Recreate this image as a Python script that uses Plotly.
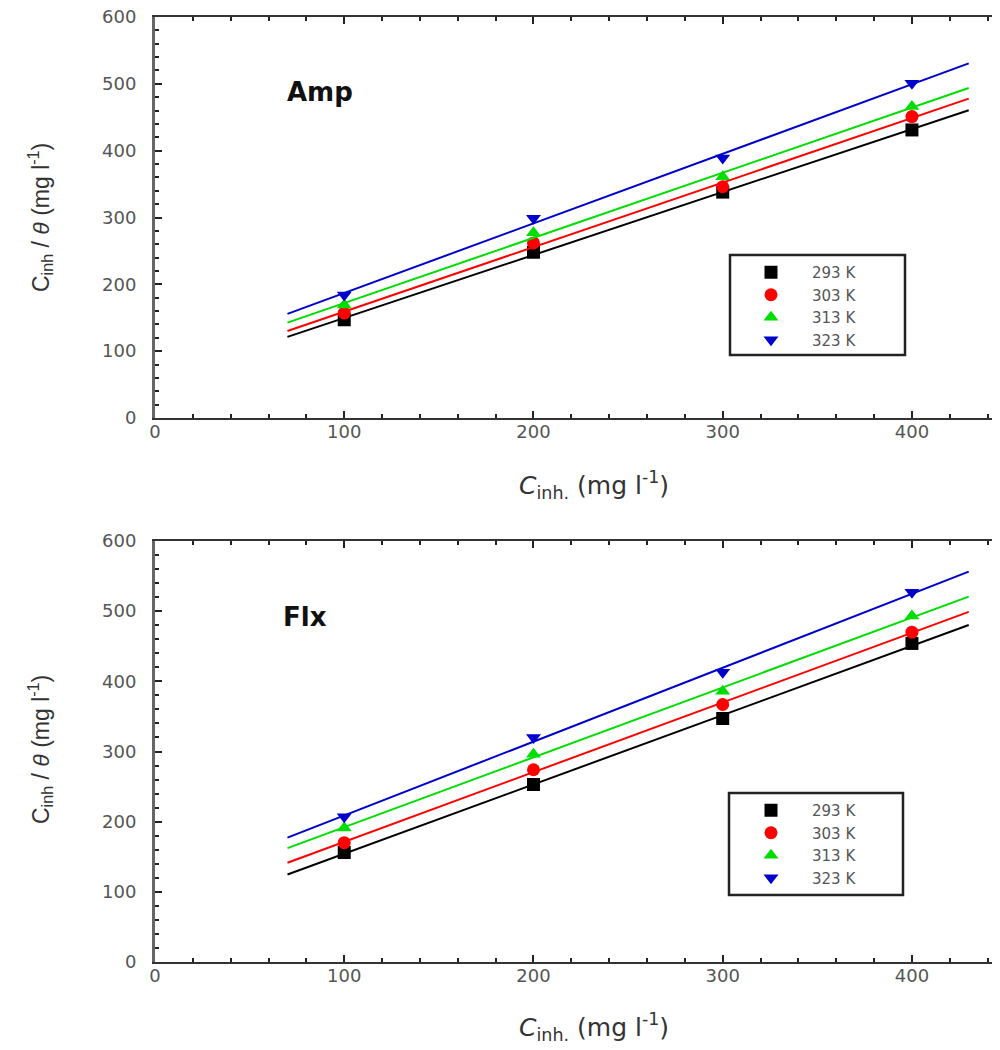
import numpy as np
import plotly.graph_objects as go
from plotly.subplots import make_subplots

conc = [100, 200, 300, 400]
temps = ['293 K', '303 K', '313 K', '323 K']

# C/theta values
amp_293 = [147, 248, 338, 431]
amp_303 = [157, 262, 346, 451]
amp_313 = [169, 277, 361, 466]
amp_323 = [184, 299, 389, 501]

flx_293 = [156, 253, 347, 454]
flx_303 = [170, 274, 367, 470]
flx_313 = [191, 296, 386, 493]
flx_323 = [207, 320, 413, 527]

fit_x = [70, 430]

colors = ['#000000', '#ff0000', '#00dd00', '#0000cc']
symbols = ['square', 'circle', 'triangle-up', 'triangle-down']

W, H = 1000, 1050
OFF = 8  # page body margin


def px(x, y):
    # screen pixel position -> paper coordinates
    return (x - OFF) / W, (H - (y - OFF)) / H


fig = make_subplots(rows=2, cols=1, vertical_spacing=0.12)

panels = [
    (1, [amp_293, amp_303, amp_313, amp_323]),
    (2, [flx_293, flx_303, flx_313, flx_323]),
]

for row, series in panels:
    for i, y in enumerate(series):
        # linear Langmuir fit through each series
        k, b = np.polyfit(conc, y, 1)
        fx = np.array(fit_x)
        fig.add_trace(go.Scatter(
            x=fx, y=k * fx + b, mode='lines',
            line=dict(color=colors[i], width=2),
            showlegend=False, hoverinfo='skip'
        ), row=row, col=1)
        fig.add_trace(go.Scatter(
            x=conc, y=y, mode='markers', name=temps[i],
            marker=dict(symbol=symbols[i], color=colors[i], size=13),
            legend='legend' if row == 1 else 'legend2'
        ), row=row, col=1)

tfont = 'DejaVu Sans, Arial, sans-serif'
afont = 'Liberation Sans, Arial, sans-serif'
ytitle = 'C<sub>inh</sub> / <i>θ</i> (mg l<sup>-1</sup>)'
xtitle = '<i>C</i><sub>inh.</sub> (mg l<sup>-1</sup>)'

axis_common = dict(
    showline=True, linecolor='#333', linewidth=2, mirror='ticks',
    ticks='inside', ticklen=7, tickwidth=2, tickcolor='#222',
    minor=dict(ticks='inside', ticklen=4, tickwidth=2, tickcolor='#222'),
    showgrid=False, zeroline=False, automargin=False,
    ticklabeloverflow='allow',
    tickfont=dict(family=tfont, size=18, color='#555'),
)

for row in (1, 2):
    fig.update_xaxes(axis_common, row=row, col=1, range=[0, 446],
                     tickvals=[0, 100, 200, 300, 400], ticklabelstandoff=-4)
    fig.update_yaxes(axis_common, row=row, col=1, range=[0, 600], dtick=100,
                     ticklabelstandoff=12)

fig.update_xaxes(domain=[px(155, 0)[0], px(999, 0)[0]])
fig.update_yaxes(linecolor='#666', linewidth=3)
fig.update_yaxes(domain=[px(0, 418)[1], px(0, 17)[1]], row=1, col=1)
fig.update_yaxes(domain=[px(0, 962)[1], px(0, 541)[1]], row=2, col=1)

# axis titles
for yc, xc in [(218, 485), (750, 1027)]:
    fig.add_annotation(text=ytitle, x=px(40, 0)[0], y=px(0, yc)[1],
                       xref='paper', yref='paper', showarrow=False,
                       textangle=-90, xanchor='center', yanchor='middle',
                       font=dict(family=afont, size=23, color='#333'))
    fig.add_annotation(text=xtitle, x=px(594, 0)[0], y=px(0, xc)[1],
                       xref='paper', yref='paper', showarrow=False,
                       xanchor='center', yanchor='middle',
                       font=dict(family=tfont, size=25, color='#333'))

# panel labels
fig.add_annotation(text='<b>Amp</b>', x=px(320, 0)[0], y=px(0, 92)[1],
                   xref='paper', yref='paper', showarrow=False,
                   xanchor='center', yanchor='middle',
                   font=dict(family=tfont, size=26, color='#111'))
fig.add_annotation(text='<b>Flx</b>', x=px(305, 0)[0], y=px(0, 617)[1],
                   xref='paper', yref='paper', showarrow=False,
                   xanchor='center', yanchor='middle',
                   font=dict(family=tfont, size=26, color='#111'))

# legend frames
for x0, y0, x1, y1 in [(730, 255, 905, 355), (729, 793, 903, 895)]:
    fig.add_shape(type='rect', xref='paper', yref='paper',
                  x0=px(x0, 0)[0], x1=px(x1, 0)[0],
                  y0=px(0, y1)[1], y1=px(0, y0)[1],
                  line=dict(color='#222', width=2.5),
                  fillcolor='white', layer='below')

legend_style = dict(
    bgcolor='rgba(0,0,0,0)', borderwidth=0,
    font=dict(family=tfont, size=15, color='#555'),
    xanchor='left', yanchor='top', itemwidth=72, tracegroupgap=0,
)
fig.update_layout(
    legend=dict(legend_style, x=px(730, 0)[0], y=px(0, 256)[1]),
    legend2=dict(legend_style, x=px(730, 0)[0], y=px(0, 794)[1]),
)

fig.update_layout(
    width=W, height=H,
    margin=dict(l=0, r=0, t=0, b=0, autoexpand=False),
    plot_bgcolor='white', paper_bgcolor='white',
)

fig.write_html('out.html')
